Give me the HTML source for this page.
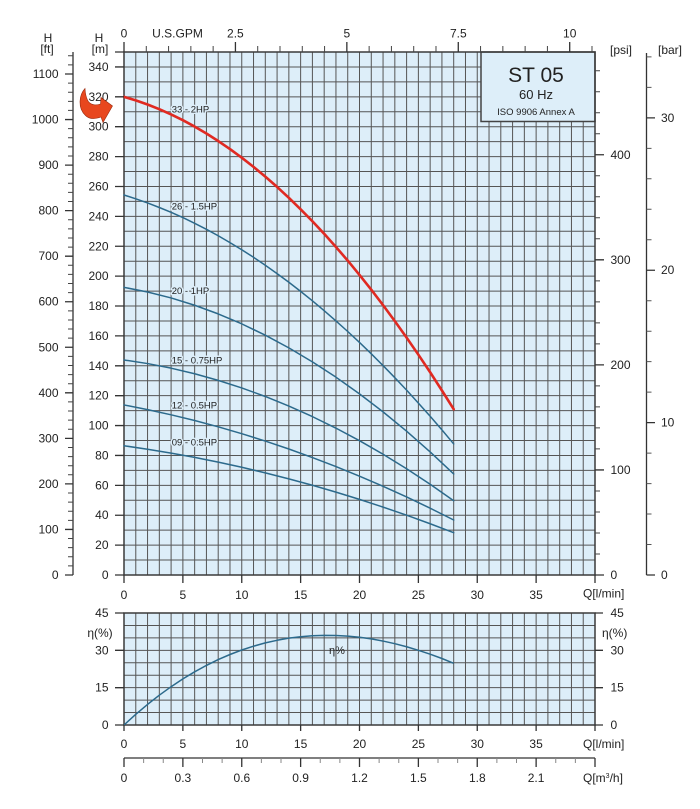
<!DOCTYPE html>
<html>
<head>
<meta charset="utf-8">
<style>
html,body{margin:0;padding:0;background:#fff;}
svg{display:block;}
text{font-family:"Liberation Sans",Arial,sans-serif;fill:#222;}
</style>
</head>
<body>
<svg width="700" height="809" viewBox="0 0 700 809" xmlns="http://www.w3.org/2000/svg">
<!-- main chart background -->
<rect x="124" y="52" width="471" height="523" fill="#ddeef9"/>
<!-- main grid -->
<path fill="none" stroke="#555" stroke-width="1" d="
M135.78 52V575M147.55 52V575M159.33 52V575M171.1 52V575M182.88 52V575M194.65 52V575M206.43 52V575M218.2 52V575M229.98 52V575M241.75 52V575
M253.53 52V575M265.3 52V575M277.08 52V575M288.85 52V575M300.63 52V575M312.4 52V575M324.18 52V575M335.95 52V575M347.73 52V575M359.5 52V575
M371.28 52V575M383.05 52V575M394.83 52V575M406.6 52V575M418.38 52V575M430.15 52V575M441.93 52V575M453.7 52V575M465.48 52V575M477.25 52V575
M489.03 52V575M500.8 52V575M512.58 52V575M524.35 52V575M536.13 52V575M547.9 52V575M559.68 52V575M571.45 52V575M583.23 52V575
M124 560.06H595M124 545.11H595M124 530.17H595M124 515.23H595M124 500.29H595M124 485.34H595M124 470.4H595M124 455.46H595M124 440.51H595
M124 425.57H595M124 410.63H595M124 395.68H595M124 380.74H595M124 365.8H595M124 350.86H595M124 335.91H595M124 320.97H595M124 306.03H595
M124 291.08H595M124 276.14H595M124 261.2H595M124 246.25H595M124 231.31H595M124 216.37H595M124 201.43H595M124 186.48H595M124 171.54H595
M124 156.6H595M124 141.65H595M124 126.71H595M124 111.77H595M124 96.82H595M124 81.88H595M124 66.94H595"/>

<!-- ST 05 box -->
<rect x="481" y="52" width="114" height="69.5" fill="#ddeef9" stroke="#444" stroke-width="1.5"/>
<text x="536" y="82" font-size="21" text-anchor="middle">ST 05</text>
<text x="536" y="99" font-size="13" text-anchor="middle">60 Hz</text>
<text x="536" y="115" font-size="9.5" text-anchor="middle">ISO 9906 Annex A</text>

<!-- main frame -->
<rect x="124" y="52" width="471" height="523" fill="none" stroke="#3a3a3a" stroke-width="1.5"/>

<!-- curves -->
<g fill="none" stroke-linejoin="round" stroke-linecap="round">
<polyline stroke="#e02a22" stroke-width="2.6" points="124,96.82 135.78,100.4 147.55,104.49 159.33,109.2 171.1,114.42 182.88,120.2 194.65,126.58 206.43,133.5 218.2,141.02 229.98,149.1 241.75,157.71 253.53,166.9 265.3,176.63 277.08,186.9 288.85,197.84 300.63,209.3 312.4,221.27 324.18,233.8 335.95,246.96 347.73,260.6 359.5,274.91 371.28,289.7 383.05,305.11 394.83,321.1 406.6,337.58 418.38,354.7 430.15,372.28 441.93,390.5 453.7,409.24"/>
<polyline stroke="#2c6a8c" stroke-width="1.5" points="124,195 135.78,198.8 147.55,202.9 159.33,207.5 171.1,212.35 182.88,217.6 194.65,223.3 206.43,229.3 218.2,235.76 229.98,242.6 241.75,249.75 253.53,257.3 265.3,265.26 277.08,273.6 288.85,282.28 300.63,291.4 312.4,300.81 324.18,310.7 335.95,320.88 347.73,331.5 359.5,342.45 371.28,353.8 383.05,365.56 394.83,377.7 406.6,390.17 418.38,403.1 430.15,416.29 441.93,429.9 453.7,443.95"/>
<polyline stroke="#2c6a8c" stroke-width="1.5" points="124,287.35 147.55,291.98 171.1,297.94 194.65,305.24 218.2,313.89 241.75,323.87 265.3,335.19 288.85,347.85 312.4,361.84 335.95,377.18 359.5,393.86 383.05,411.88 406.6,431.23 430.15,451.91 453.7,473.96"/>
<polyline stroke="#2c6a8c" stroke-width="1.5" points="124,359.97 147.55,363.57 171.1,368.17 194.65,373.76 218.2,380.35 241.75,387.93 265.3,396.49 288.85,406.05 312.4,416.62 335.95,428.15 359.5,440.69 383.05,454.22 406.6,468.74 430.15,484.26 453.7,500.76"/>
<polyline stroke="#2c6a8c" stroke-width="1.5" points="124,404.95 147.55,409.6 171.1,414.8 194.65,420.54 218.2,426.82 241.75,433.68 265.3,441.08 288.85,449.01 312.4,457.52 335.95,466.54 359.5,476.15 383.05,486.3 406.6,496.98 430.15,508.23 453.7,520.01"/>
<polyline stroke="#2c6a8c" stroke-width="1.5" points="124,445.74 147.55,449.21 171.1,453.09 194.65,457.4 218.2,462.13 241.75,467.29 265.3,472.87 288.85,478.86 312.4,485.28 335.95,492.13 359.5,499.4 383.05,507.1 406.6,515.2 430.15,523.75 453.7,532.7"/>
</g>

<!-- curve labels -->
<g font-size="9.5" stroke="#ddeef9" stroke-width="3" paint-order="stroke" stroke-linejoin="round">
<text x="171.7" y="112.5">33 - 2HP</text>
<text x="171.7" y="209.3">26 - 1.5HP</text>
<text x="171.7" y="294">20 - 1HP</text>
<text x="171.7" y="363.5">15 - 0.75HP</text>
<text x="171.7" y="408.5">12 - 0.5HP</text>
<text x="171.7" y="445.5">09 - 0.5HP</text>
</g>

<!-- left m axis ticks -->
<path fill="none" stroke="#333" stroke-width="1.3" d="
M115 575H124M115 545.11H124M115 515.23H124M115 485.34H124M115 455.46H124M115 425.57H124M115 395.68H124M115 365.8H124M115 335.91H124
M115 306.03H124M115 276.14H124M115 246.25H124M115 216.37H124M115 186.48H124M115 156.6H124M115 126.71H124M115 96.82H124M115 66.94H124M115 52H124"/>
<g font-size="12" text-anchor="end">
<text x="108.5" y="579">0</text>
<text x="108.5" y="549.1">20</text>
<text x="108.5" y="519.2">40</text>
<text x="108.5" y="489.3">60</text>
<text x="108.5" y="459.5">80</text>
<text x="108.5" y="429.6">100</text>
<text x="108.5" y="399.7">120</text>
<text x="108.5" y="369.8">140</text>
<text x="108.5" y="339.9">160</text>
<text x="108.5" y="310">180</text>
<text x="108.5" y="280.1">200</text>
<text x="108.5" y="250.3">220</text>
<text x="108.5" y="220.4">240</text>
<text x="108.5" y="190.5">260</text>
<text x="108.5" y="160.6">280</text>
<text x="108.5" y="130.7">300</text>
<text x="108.5" y="100.8">320</text>
<text x="108.5" y="70.9">340</text>
</g>
<g font-size="12" text-anchor="middle">
<text x="99" y="42">H</text>
<text x="100" y="53">[m]</text>
<text x="48" y="42">H</text>
<text x="47" y="53">[ft]</text>
</g>

<!-- ft axis -->
<path fill="none" stroke="#333" stroke-width="1.3" d="M73 52V575"/>
<path fill="none" stroke="#444" stroke-width="1" d="
M68 565.89H73M68 556.78H73M68 547.67H73M68 538.56H73M68 520.34H73M68 511.24H73M68 502.13H73M68 493.02H73
M68 474.8H73M68 465.69H73M68 456.58H73M68 447.47H73M68 429.25H73M68 420.14H73M68 411.03H73M68 401.92H73
M68 383.71H73M68 374.6H73M68 365.49H73M68 356.38H73M68 338.16H73M68 329.05H73M68 319.94H73M68 310.83H73
M68 292.61H73M68 283.5H73M68 274.4H73M68 265.29H73M68 247.07H73M68 237.96H73M68 228.85H73M68 219.74H73
M68 201.52H73M68 192.41H73M68 183.3H73M68 174.19H73M68 155.98H73M68 146.87H73M68 137.76H73M68 128.65H73
M68 110.43H73M68 101.32H73M68 92.21H73M68 83.1H73M68 64.88H73M68 55.77H73"/>
<path fill="none" stroke="#333" stroke-width="1.3" d="
M65 575H73M65 529.45H73M65 483.91H73M65 438.36H73M65 392.82H73M65 347.27H73M65 301.72H73M65 256.18H73M65 210.63H73M65 165.09H73M65 119.54H73M65 73.99H73"/>
<g font-size="12" text-anchor="end">
<text x="58.5" y="579">0</text>
<text x="58.5" y="533.5">100</text>
<text x="58.5" y="487.9">200</text>
<text x="58.5" y="442.4">300</text>
<text x="58.5" y="396.8">400</text>
<text x="58.5" y="351.3">500</text>
<text x="58.5" y="305.7">600</text>
<text x="58.5" y="260.2">700</text>
<text x="58.5" y="214.6">800</text>
<text x="58.5" y="169.1">900</text>
<text x="58.5" y="123.5">1000</text>
<text x="58.5" y="78">1100</text>
</g>

<!-- red arrow -->
<path d="M85 88.5 C79 95, 77.5 108, 85.5 115.5 C89.5 119.5, 95.5 119, 101 117 L103 122.5 L112.5 106 L101 97.5 L100.5 104 C95 106, 89.5 104.5, 87.5 100 C85.8 96.5, 85.2 92.5, 85 88.5 Z" fill="#e8471e" stroke="#9a2c10" stroke-width="0.6"/>

<!-- top GPM axis -->
<path fill="none" stroke="#444" stroke-width="1" d="
M146.29 52V46M168.57 52V46M190.86 52V46M213.14 52V46M257.71 52V46M280 52V46M302.28 52V46M324.57 52V46
M369.14 52V46M391.42 52V46M413.71 52V46M435.99 52V46M480.56 52V46M502.85 52V46M525.13 52V46M547.42 52V46M591.99 52V46"/>
<path fill="none" stroke="#333" stroke-width="1.3" d="M124 52V42M235.43 52V42M346.85 52V42M458.28 52V42M569.7 52V42"/>
<g font-size="12" text-anchor="middle">
<text x="124" y="37.5">0</text>
<text x="177.5" y="37.5">U.S.GPM</text>
<text x="235.4" y="37.5">2.5</text>
<text x="346.9" y="37.5">5</text>
<text x="458.3" y="37.5">7.5</text>
<text x="569.7" y="37.5">10</text>
</g>

<!-- main x axis ticks -->
<path fill="none" stroke="#333" stroke-width="1.3" d="M124 575V583M182.88 575V583M241.75 575V583M300.63 575V583M359.5 575V583M418.38 575V583M477.25 575V583M536.13 575V583M595 575V583"/>
<g font-size="12" text-anchor="middle">
<text x="124" y="599">0</text>
<text x="182.9" y="599">5</text>
<text x="241.8" y="599">10</text>
<text x="300.6" y="599">15</text>
<text x="359.5" y="599">20</text>
<text x="418.4" y="599">25</text>
<text x="477.3" y="599">30</text>
<text x="536.1" y="599">35</text>
</g>
<text x="583" y="597.5" font-size="12">Q[l/min]</text>

<!-- psi axis -->
<path fill="none" stroke="#444" stroke-width="1" d="
M595 553.99H600M595 532.98H600M595 511.96H600M595 490.95H600M595 448.93H600M595 427.92H600M595 406.9H600M595 385.89H600
M595 343.87H600M595 322.86H600M595 301.84H600M595 280.83H600M595 238.81H600M595 217.8H600M595 196.78H600M595 175.77H600
M595 133.75H600M595 112.74H600M595 91.72H600M595 70.71H600"/>
<path fill="none" stroke="#333" stroke-width="1.3" d="M595 575H604M595 469.94H604M595 364.88H604M595 259.82H604M595 154.76H604"/>
<g font-size="12">
<text x="610.5" y="579">0</text>
<text x="610.5" y="474">100</text>
<text x="610.5" y="369">200</text>
<text x="610.5" y="264">300</text>
<text x="610.5" y="159">400</text>
<text x="610" y="54">[psi]</text>
<text x="658" y="54">[bar]</text>
</g>

<!-- bar axis -->
<path fill="none" stroke="#333" stroke-width="1.3" d="M646.5 53V575"/>
<path fill="none" stroke="#555" stroke-width="1" d="
M646.5 544.52H651.5M646.5 514.05H651.5M646.5 483.57H651.5M646.5 453.1H651.5M646.5 392.14H651.5M646.5 361.67H651.5M646.5 331.19H651.5M646.5 300.72H651.5
M646.5 239.76H651.5M646.5 209.29H651.5M646.5 178.81H651.5M646.5 148.33H651.5M646.5 87.38H651.5M646.5 56.91H651.5"/>
<path fill="none" stroke="#333" stroke-width="1.3" d="M646.5 575H655M646.5 422.62H655M646.5 270.24H655M646.5 117.86H655"/>
<g font-size="12">
<text x="661" y="579">0</text>
<text x="661" y="426.6">10</text>
<text x="661" y="274.2">20</text>
<text x="661" y="122">30</text>
</g>

<!-- efficiency chart -->
<rect x="124" y="613" width="471" height="112" fill="#ddeef9"/>
<path fill="none" stroke="#555" stroke-width="1" d="
M135.78 613V725M147.55 613V725M159.33 613V725M171.1 613V725M182.88 613V725M194.65 613V725M206.43 613V725M218.2 613V725M229.98 613V725M241.75 613V725
M253.53 613V725M265.3 613V725M277.08 613V725M288.85 613V725M300.63 613V725M312.4 613V725M324.18 613V725M335.95 613V725M347.73 613V725M359.5 613V725
M371.28 613V725M383.05 613V725M394.83 613V725M406.6 613V725M418.38 613V725M430.15 613V725M441.93 613V725M453.7 613V725M465.48 613V725M477.25 613V725
M489.03 613V725M500.8 613V725M512.58 613V725M524.35 613V725M536.13 613V725M547.9 613V725M559.68 613V725M571.45 613V725M583.23 613V725
M124 712.56H595M124 700.11H595M124 687.67H595M124 675.22H595M124 662.78H595M124 650.33H595M124 637.89H595M124 625.44H595"/>
<rect x="124" y="613" width="471" height="112" fill="none" stroke="#3a3a3a" stroke-width="1.5"/>
<polyline fill="none" stroke="#2c6a8c" stroke-width="1.5" stroke-linejoin="round" points="124,725 135.78,714.33 147.55,704.4 159.33,695.2 171.1,686.7 182.88,678.9 194.65,671.81 206.43,665.4 218.2,659.61 229.98,654.5 241.75,650 253.53,646.2 265.3,642.89 277.08,640.3 288.85,638.16 300.63,636.7 312.4,635.72 324.18,635.4 335.95,635.46 347.73,636.1 359.5,637.28 371.28,638.9 383.05,641.08 394.83,643.7 406.6,646.75 418.38,650.3 430.15,654.18 441.93,658.5 453.7,663.28"/>
<text x="337" y="654" font-size="11" text-anchor="middle">η%</text>

<path fill="none" stroke="#333" stroke-width="1.3" d="M115 613H124M115 650.33H124M115 687.67H124M115 725H124M595 613H603M595 650.33H603M595 687.67H603M595 725H603"/>
<g font-size="12" text-anchor="end">
<text x="108.5" y="617">45</text>
<text x="108.5" y="654.3">30</text>
<text x="108.5" y="691.7">15</text>
<text x="108.5" y="729">0</text>
</g>
<text x="100" y="637" font-size="12" text-anchor="middle">η(%)</text>
<g font-size="12">
<text x="610.5" y="617">45</text>
<text x="610.5" y="654.3">30</text>
<text x="610.5" y="691.7">15</text>
<text x="610.5" y="729">0</text>
<text x="602" y="637">η(%)</text>
</g>

<path fill="none" stroke="#333" stroke-width="1.3" d="M124 725V731M182.88 725V731M241.75 725V731M300.63 725V731M359.5 725V731M418.38 725V731M477.25 725V731M536.13 725V731M595 725V731"/>
<g font-size="12" text-anchor="middle">
<text x="124" y="748">0</text>
<text x="182.9" y="748">5</text>
<text x="241.8" y="748">10</text>
<text x="300.6" y="748">15</text>
<text x="359.5" y="748">20</text>
<text x="418.4" y="748">25</text>
<text x="477.3" y="748">30</text>
<text x="536.1" y="748">35</text>
</g>
<text x="583" y="748" font-size="12">Q[l/min]</text>

<!-- m3/h axis -->
<path fill="none" stroke="#333" stroke-width="1.3" d="M124 758H595"/>
<path fill="none" stroke="#888" stroke-width="1" d="
M143.63 758V763M163.25 758V763M202.5 758V763M222.13 758V763M261.38 758V763M281 758V763M320.25 758V763M339.88 758V763
M379.13 758V763M398.75 758V763M438 758V763M457.63 758V763M496.88 758V763M516.5 758V763M555.75 758V763M575.38 758V763"/>
<path fill="none" stroke="#333" stroke-width="1.3" d="M124 758V767M182.88 758V767M241.75 758V767M300.63 758V767M359.5 758V767M418.38 758V767M477.25 758V767M536.13 758V767M595 758V767"/>
<g font-size="12" text-anchor="middle">
<text x="124" y="782">0</text>
<text x="182.9" y="782">0.3</text>
<text x="241.8" y="782">0.6</text>
<text x="300.6" y="782">0.9</text>
<text x="359.5" y="782">1.2</text>
<text x="418.4" y="782">1.5</text>
<text x="477.3" y="782">1.8</text>
<text x="536.1" y="782">2.1</text>
</g>
<text x="583" y="782" font-size="12">Q[m<tspan font-size="7" dy="-4">3</tspan><tspan dy="4">/h]</tspan></text>
</svg>
</body>
</html>
